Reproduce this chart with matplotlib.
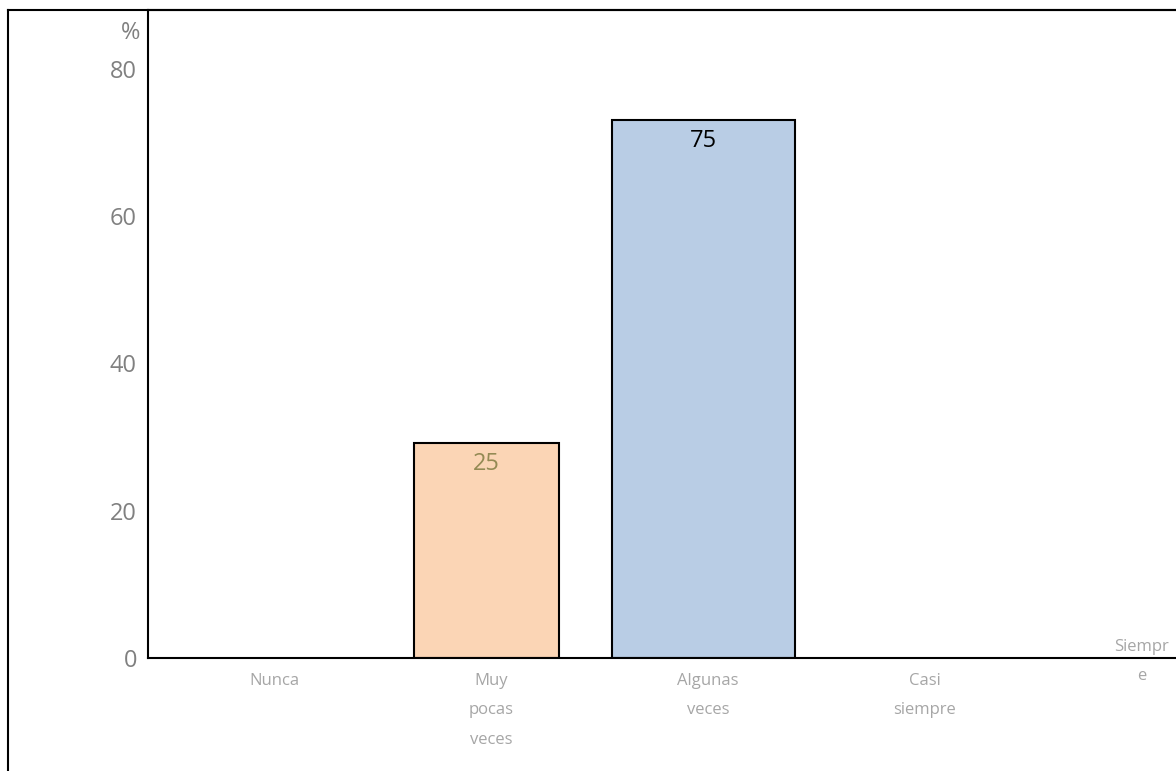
import matplotlib
matplotlib.use("Agg")
import matplotlib.pyplot as plt
from matplotlib.lines import Line2D

# ── data ──────────────────────────────────────────────────────────────────────
categories = ["Nunca", "Muy\npocas\nveces", "Algunas\nveces", "Casi\nsiempre", "Siempr\ne"]
bar_pos    = [1, 2]
bar_height = [29.2, 73.1]          # heights as drawn in the picture
bar_labels = ["25", "75"]          # printed values
yticks     = [0, 20, 40, 60, 80]

# ── style ─────────────────────────────────────────────────────────────────────
bar_colors  = ["#FBD5B5", "#B9CDE5"]
bar_widths  = [0.67, 0.84]
bar_shift   = -0.02
label_cols  = ["#948A54", "#000000"]
FONT = ["Open Sans", "DejaVu Sans"]

fig = plt.figure(figsize=(11.76, 7.71), dpi=100)
ax = fig.add_axes([148/1176, 113/771, 1028/1176, 648/771])

xs = [p + bar_shift for p in bar_pos]
ax.bar(xs, bar_height, width=bar_widths, color=bar_colors,
       edgecolor="black", linewidth=1.5, zorder=2)
for x, h, lab, c in zip(xs, bar_height, bar_labels, label_cols):
    ax.annotate(lab, (x, h), xytext=(0, -15), textcoords="offset points",
                ha="center", va="center", fontsize=17, color=c, family=FONT)

ax.set_xlim(-0.581, 4.159)
ax.set_ylim(0, 88)
ax.set_xticks(range(len(categories)))
ax.set_xticklabels(categories, fontsize=12, color="#A6A6A6", family=FONT,
                   linespacing=2.1)
ax.set_yticks(yticks)
ax.set_yticklabels([str(t) for t in yticks], fontsize=17, color="#808080", family=FONT)
ax.tick_params(axis="both", length=0)
ax.tick_params(axis="y", pad=8)
ax.tick_params(axis="x", pad=11)
ax.xaxis.get_major_ticks()[4].set_pad(-14)

for s in ["left", "bottom", "top"]:
    ax.spines[s].set_linewidth(1.5)
ax.spines["right"].set_visible(False)

ax.text(-0.008, 0.965, "%", transform=ax.transAxes, ha="right", va="center",
        fontsize=17, color="#808080", family=FONT)

# outer frame (left and top)
fig.add_artist(Line2D([8/1176, 8/1176], [0, 1 - 10/771], color="black", lw=1.5))
fig.add_artist(Line2D([8/1176, 1], [1 - 10/771, 1 - 10/771], color="black", lw=1.5))

fig.savefig("out.png", dpi=100)
